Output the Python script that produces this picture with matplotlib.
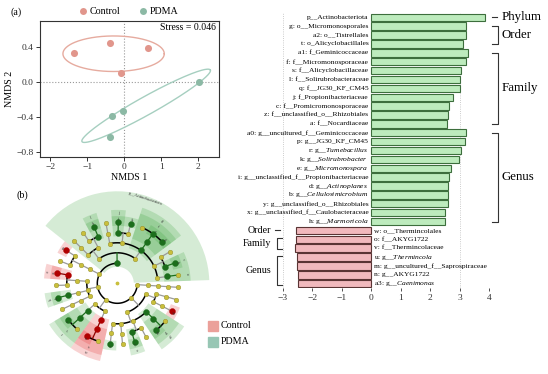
import numpy as np
import matplotlib
matplotlib.use('Agg')
import matplotlib.pyplot as plt
from matplotlib.lines import Line2D
from matplotlib.patches import Rectangle

plt.rcParams['font.family'] = ['Liberation Serif', 'DejaVu Serif']
plt.rcParams['mathtext.fontset'] = 'custom'
plt.rcParams['mathtext.rm'] = 'Liberation Serif'
plt.rcParams['mathtext.it'] = 'Liberation Serif:italic'

W, H = 548, 374

# ---------------- (a) NMDS data ----------------
ctrl_x = [-1.37, -0.38, 0.65, -0.09]
ctrl_y = [0.34, 0.45, 0.39, 0.11]
pdma_x = [2.03, -0.03, -0.34, -0.39]
pdma_y = [0.00, -0.325, -0.38, -0.62]
# centre, semi-axis 1, semi-axis 2
ctrl_ellipse = [(-0.29, 0.326), (1.37, 0.0), (0.0, 0.203)]
pdma_ellipse = [(0.59, -0.269), (1.735, 0.409), (0.118, -0.09)]
stress = 0.046

# ---------------- LDA bars ----------------
pdma_taxa = ['p__Actinobacteriota', 'g: o__Micromonosporales', 'a2: o__Tistrellales',
             't: o_Alicyclobacillales', 'a1: f_Geminicoccaceae', 'f: f__Micromonosporaceae',
             's: f__Alicyclobacillaceae', 'l: f__Solirubrobacteraceae', 'q: f__JG30_KF_CM45',
             'j: f_Propionibacteriaceae', 'c: f__Promicromonosporaceae',
             'z: f__unclassified_o__Rhizobiales', 'a: f__Nocardiaceae',
             'a0: g__uncultured_f__Geminicoccaceae', 'p: g__JG30_KF_CM45',
             r'r: g__$\mathit{Tumebacillus}$', r'k: g__$\mathit{Solirubrobacter}$',
             r'e: g__$\mathit{Micromonospora}$', 'i: g__unclassified_f__Propionibacteriaceae',
             r'd: g__$\mathit{Actinoplanes}$', r'b: g__$\mathit{Cellulosimicrobium}$',
             'y: g__unclassified_o__Rhizobiales', 'x: g__unclassified_f__Caulobacteraceae',
             r'h: g__$\mathit{Marmoricola}$']
pdma_lda = [3.85, 3.22, 3.21, 3.10, 3.28, 3.22, 3.04, 3.03, 3.01, 2.78, 2.64, 2.59, 2.58,
            3.23, 3.18, 3.06, 2.97, 2.72, 2.64, 2.62, 2.61, 2.61, 2.52, 2.50]
ctrl_taxa = ['w: o__Thermincolales', 'o: f__AKYG1722', 'v: f__Thermincolaceae',
             r'u: g__$\mathit{Thermincola}$', 'm: g__uncultured_f__Saprospiraceae',
             'n: g__AKYG1722', r'a3: g__$\mathit{Caenimonas}$']
ctrl_lda = [-2.55, -2.57, -2.58, -2.53, -2.52, -2.49, -2.48]
pdma_groups = [('Phylum', 1), ('Order', 3), ('Family', 9), ('Genus', 11)]
ctrl_groups = [('Order', 1), ('Family', 2), ('Genus', 4)]

# ---------------- (b) cladogram ----------------
lineages = [
    'p__Actinobacteriota;c__Actinobacteria;o__Corynebacteriales;f__Nocardiaceae;g__Nocardia',
    'p__Actinobacteriota;c__Actinobacteria;o__Micrococcales;f__Promicromonosporaceae;g__Cellulosimicrobium',
    'p__Actinobacteriota;c__Actinobacteria;o__Micrococcales;f__Microbacteriaceae;g__Microbacterium',
    'p__Actinobacteriota;c__Actinobacteria;o__Micromonosporales;f__Micromonosporaceae;g__Actinoplanes',
    'p__Actinobacteriota;c__Actinobacteria;o__Micromonosporales;f__Micromonosporaceae;g__Micromonospora',
    'p__Actinobacteriota;c__Actinobacteria;o__Micromonosporales;f__Micromonosporaceae;g__Catellatospora',
    'p__Actinobacteriota;c__Actinobacteria;o__Propionibacteriales;f__Nocardioidaceae;g__Marmoricola',
    'p__Actinobacteriota;c__Actinobacteria;o__Propionibacteriales;f__Propionibacteriaceae;g__unclassified_f__Propionibacteriaceae',
    'p__Actinobacteriota;c__Actinobacteria;o__Streptomycetales;f__Streptomycetaceae;g__Streptomyces',
    'p__Actinobacteriota;c__Thermoleophilia;o__Solirubrobacterales;f__Solirubrobacteraceae;g__Solirubrobacter',
    'p__Actinobacteriota;c__Thermoleophilia;o__Solirubrobacterales;f__67_14;g__67_14',
    'p__Actinobacteriota;c__Thermoleophilia;o__Gaiellales;f__Gaiellaceae;g__Gaiella',
    'p__Bacteroidota;c__Bacteroidia;o__Chitinophagales;f__Saprospiraceae;g__uncultured_f__Saprospiraceae',
    'p__Bacteroidota;c__Bacteroidia;o__Chitinophagales;f__Chitinophagaceae;g__Flavisolibacter',
    'p__Chloroflexi;c__Anaerolineae;o__Anaerolineales;f__AKYG1722;g__AKYG1722',
    'p__Chloroflexi;c__Anaerolineae;o__Anaerolineales;f__Anaerolineaceae;g__uncultured_f__Anaerolineaceae',
    'p__Chloroflexi;c__Chloroflexia;o__Thermomicrobiales;f__JG30_KF_CM45;g__JG30_KF_CM45',
    'p__Chloroflexi;c__KD4_96;o__KD4_96;f__KD4_96;g__KD4_96',
    'p__Firmicutes;c__Bacilli;o__Alicyclobacillales;f__Alicyclobacillaceae;g__Tumebacillus',
    'p__Firmicutes;c__Bacilli;o__Alicyclobacillales;f__Alicyclobacillaceae;g__Alicyclobacillus',
    'p__Firmicutes;c__Clostridia;o__Thermincolales;f__Thermincolaceae;g__Thermincola',
    'p__Firmicutes;c__Clostridia;o__Thermincolales;f__Thermincolaceae;g__uncultured_f__Thermincolaceae',
    'p__Proteobacteria;c__Alphaproteobacteria;o__Caulobacterales;f__Caulobacteraceae;g__unclassified_f__Caulobacteraceae',
    'p__Proteobacteria;c__Alphaproteobacteria;o__Sphingomonadales;f__Sphingomonadaceae;g__Sphingomonas',
    'p__Proteobacteria;c__Alphaproteobacteria;o__Rhizobiales;f__unclassified_o__Rhizobiales;g__unclassified_o__Rhizobiales',
    'p__Proteobacteria;c__Alphaproteobacteria;o__Rhizobiales;f__Xanthobacteraceae;g__uncultured_f__Xanthobacteraceae',
    'p__Proteobacteria;c__Alphaproteobacteria;o__Tistrellales;f__Geminicoccaceae;g__uncultured_f__Geminicoccaceae',
    'p__Proteobacteria;c__Alphaproteobacteria;o__Tistrellales;f__Geminicoccaceae;g__Geminicoccus',
    'p__Proteobacteria;c__Gammaproteobacteria;o__Burkholderiales;f__Comamonadaceae;g__Caenimonas',
    'p__Proteobacteria;c__Gammaproteobacteria;o__Xanthomonadales;f__Xanthomonadaceae;g__Lysobacter',
    'p__Acidobacteriota;c__Vicinamibacteria;o__Vicinamibacterales;f__Vicinamibacteraceae;g__Vicinamibacter',
]
clade_letters = {
    'f__Nocardiaceae': 'a', 'g__Cellulosimicrobium': 'b', 'f__Promicromonosporaceae': 'c',
    'g__Actinoplanes': 'd', 'g__Micromonospora': 'e', 'f__Micromonosporaceae': 'f',
    'o__Micromonosporales': 'g', 'g__Marmoricola': 'h',
    'g__unclassified_f__Propionibacteriaceae': 'i', 'f__Propionibacteriaceae': 'j',
    'g__Solirubrobacter': 'k', 'f__Solirubrobacteraceae': 'l',
    'g__uncultured_f__Saprospiraceae': 'm', 'g__AKYG1722': 'n', 'f__AKYG1722': 'o',
    'g__JG30_KF_CM45': 'p', 'f__JG30_KF_CM45': 'q', 'g__Tumebacillus': 'r',
    'f__Alicyclobacillaceae': 's', 'o__Alicyclobacillales': 't', 'g__Thermincola': 'u',
    'f__Thermincolaceae': 'v', 'o__Thermincolales': 'w',
    'g__unclassified_f__Caulobacteraceae': 'x', 'g__unclassified_o__Rhizobiales': 'y',
    'f__unclassified_o__Rhizobiales': 'z', 'g__uncultured_f__Geminicoccaceae': 'a0',
    'f__Geminicoccaceae': 'a1', 'o__Tistrellales': 'a2', 'g__Caenimonas': 'a3',
    'p__Actinobacteriota': 'p__Actinobacteriota',
}
ctrl_clades = ['g__uncultured_f__Saprospiraceae', 'g__AKYG1722', 'f__AKYG1722',
               'g__Thermincola', 'f__Thermincolaceae', 'o__Thermincolales', 'g__Caenimonas']

C_CTRL, C_PDMA = '#e1968c', '#8cb9a5'


def px(x, y):
    return x / W, 1 - y / H


fig = plt.figure(figsize=(W / 100, H / 100), dpi=100)

# ================= (a) NMDS =================
ax = fig.add_axes([40 / W, 1 - 157 / H, 179 / W, 136 / H])
ax.axvline(0, color='#999999', ls=':', lw=0.8, zorder=0)
ax.axhline(0, color='#999999', ls=':', lw=0.8, zorder=0)
t = np.linspace(0, 2 * np.pi, 300)
for (c, a, b), col in [(ctrl_ellipse, '#e6ab9f'), (pdma_ellipse, '#a6cfc0')]:
    ex = c[0] + np.cos(t) * a[0] + np.sin(t) * b[0]
    ey = c[1] + np.cos(t) * a[1] + np.sin(t) * b[1]
    ax.plot(ex, ey, color=col, lw=1.0)
ax.scatter(ctrl_x, ctrl_y, s=26, color=C_CTRL, zorder=3, lw=0)
ax.scatter(pdma_x, pdma_y, s=26, color=C_PDMA, zorder=3, lw=0)
ax.set_xlim(-2.28, 2.56)
ax.set_ylim(-0.854, 0.70)
ax.set_xticks([-2, -1, 0, 1, 2])
ax.set_yticks([-0.8, -0.4, 0.0, 0.4])
ax.set_yticklabels(['\u22120.8', '\u22120.4', '0.0', '0.4'])
ax.tick_params(labelsize=6.8, length=3, width=0.7, pad=1.5, colors='#333333')
for s in ax.spines.values():
    s.set_color('#333333')
    s.set_linewidth(0.8)
ax.set_xlabel('NMDS 1', fontsize=7.2, labelpad=1)
ax.set_ylabel('NMDS 2', fontsize=7.2, labelpad=2)
ax.text(0.98, 0.955, f'Stress = {stress}', transform=ax.transAxes, ha='right', va='center',
        fontsize=7)
handles = [Line2D([], [], ls='', marker='o', ms=5, color=C_CTRL, mec='none'),
           Line2D([], [], ls='', marker='o', ms=5, color=C_PDMA, mec='none')]
ax.legend(handles, ['Control', 'PDMA'], loc='lower center', bbox_to_anchor=(0.49, 1.0),
          ncol=2, frameon=False, fontsize=7.2, handletextpad=0.1, columnspacing=1.6,
          borderaxespad=0.1, handlelength=1.2)
fig.text(*px(16, 12), '(a)', fontsize=7.2, ha='center', va='center')

# ================= LDA bar chart =================
bx = fig.add_axes([283 / W, 1 - 288.1 / H, 206 / W, 275.2 / H])
n_g, n_c = len(pdma_taxa), len(ctrl_taxa)
yg = np.arange(n_g)
yc = np.arange(n_g, n_g + n_c)
bx.axvline(-3, color='#bbbbbb', ls=':', lw=0.6, zorder=0)
bx.axvline(3, color='#bbbbbb', ls=':', lw=0.6, zorder=0)
bx.barh(yg, pdma_lda, height=0.84, color='#bdebbd', edgecolor='#3d6e3d', lw=0.8)
bx.barh(yc, ctrl_lda, height=0.84, color='#f1b9bd', edgecolor='#5a3434', lw=0.8)
for y, lab in zip(yg, pdma_taxa):
    bx.text(-0.1, y, lab, ha='right', va='center', fontsize=5.4)
for y, lab in zip(yc, ctrl_taxa):
    bx.text(0.09, y, lab, ha='left', va='center', fontsize=5.4)
bx.set_xlim(-3, 4)
bx.set_ylim(n_g + n_c - 0.5, -0.5)
bx.set_xticks(range(-3, 5))
bx.set_xticklabels([f'\u2212{-v}' if v < 0 else str(v) for v in range(-3, 5)])
bx.set_yticks([])
bx.tick_params(axis='x', labelsize=6.8, length=2.5, width=0.6, pad=1.5, colors='#333333')
for s in bx.spines.values():
    s.set_visible(False)

kw = dict(color='#333333', lw=0.8, clip_on=False)
r0 = 0
for name, n in pdma_groups:
    r1 = r0 + n - 1
    if n == 1:
        bx.plot([4.1, 4.27], [r0, r0], **kw)
    else:
        bx.plot([4.1, 4.3, 4.3, 4.1], [r0, r0, r1, r1], **kw)
    bx.text(4.44, (r0 + r1) / 2, name, ha='left', va='center', fontsize=9.3)
    r0 = r1 + 1
for name, n in ctrl_groups:
    r1 = r0 + n - 1
    if n == 1:
        bx.plot([-3.27, -3.1], [r0, r0], **kw)
    else:
        bx.plot([-3.02, -3.22, -3.22, -3.02], [r0 - 0.1, r0 - 0.1, r1 + 0.1, r1 + 0.1], **kw)
    bx.text(-3.4, (r0 + r1) / 2, name, ha='right', va='center', fontsize=7.2)
    r0 = r1 + 1

# ================= (b) cladogram =================
cx, cy, rmax = 117.3, 283.3, 95
pc = fig.add_axes([(cx - rmax) / W, 1 - (cy + rmax) / H, 2 * rmax / W, 2 * rmax / H],
                  projection='polar')
pc.set_ylim(0, rmax)
pc.axis('off')

paths = [s.split(';') for s in lineages]
n_leaf = len(paths)
step = 2 * np.pi / n_leaf
leaf_theta = np.deg2rad(2) + (np.arange(n_leaf) + 0.5) * step
radius = [0, 20, 30.5, 40.5, 50.5, 61]
band = 6.2

children, theta, leaves = {}, {}, {}
for i, p in enumerate(paths):
    for k in range(1, 6):
        key = tuple(p[:k])
        leaves.setdefault(key, []).append(i)
        kids = children.setdefault(tuple(p[:k - 1]), [])
        if key not in kids:
            kids.append(key)
    theta[tuple(p)] = leaf_theta[i]
for k in range(4, -1, -1):
    for key in [c for c in children if len(c) == k]:
        ts = [theta[c] for c in children[key]]
        theta[key] = (min(ts) + max(ts)) / 2


def group(key):
    if not key:
        return None
    name = key[-1]
    if name in ctrl_clades:
        return 'Control'
    if name in clade_letters:
        return 'PDMA'
    return None


fill = {'PDMA': '#2e9e2e', 'Control': '#e02020'}
dark = {'PDMA': '#1c6e1c', 'Control': '#b00000', None: '#c9bf3c'}
line = {'PDMA': '#1c6e1c', 'Control': '#8a0000', None: '#9a9a9a'}

# shaded clades
for key in leaves:
    g = group(key)
    if g is None:
        continue
    lev = len(key)
    idx = leaves[key]
    t0 = leaf_theta[min(idx)] - step / 2
    wd = len(idx) * step
    r_in = radius[lev] - 3.5
    r_out = radius[5] + (6 - lev) * band
    pc.bar(t0 + wd / 2, r_out - r_in, width=wd, bottom=r_in, color=fill[g], alpha=0.2,
           lw=0, zorder=0)
    lab = clade_letters[key[-1]]
    tl = t0 + wd / 2
    rl = radius[5] + (5.5 - lev) * band
    deg = np.rad2deg(tl) % 360
    rot = deg - 90 if deg < 180 else deg + 90
    pc.text(tl, rl, lab, fontsize=2.8 if lev > 1 else 3.2, ha='center', va='center',
            rotation=rot, rotation_mode='anchor', color='#333333', zorder=4)

# branches
for key, kids in children.items():
    lev = len(key)
    r_kid = radius[lev + 1]
    ts = [theta[c] for c in kids]
    if len(kids) > 1:
        tt = np.linspace(min(ts), max(ts), 80)
        pc.plot(tt, np.full_like(tt, r_kid), color='black', lw=1.1, zorder=2)
    if lev > 0:
        pc.plot([theta[key]] * 2, [radius[lev], r_kid], color=line[group(key)], lw=0.9,
                zorder=2)

# nodes
for key in leaves:
    g = group(key)
    pc.scatter(theta[key], radius[len(key)], s=18 if g else 11, color=dark[g],
               edgecolor='#8f8a2a' if g is None else dark[g], lw=0.3, zorder=3)
pc.scatter(0, 0, s=3, color=dark[None], zorder=3)

fig.text(*px(22, 195), '(b)', fontsize=7.4, ha='center', va='center')
for yy, col, lab in [(326, '#eba09a', 'Control'), (342, '#97c6b4', 'PDMA')]:
    fig.add_artist(Rectangle(px(208, yy + 5), 10 / W, 10 / H, color=col,
                             transform=fig.transFigure))
    fig.text(*px(221, yy), lab, fontsize=7.2, ha='left', va='center')

fig.savefig('out.png', dpi=100)
